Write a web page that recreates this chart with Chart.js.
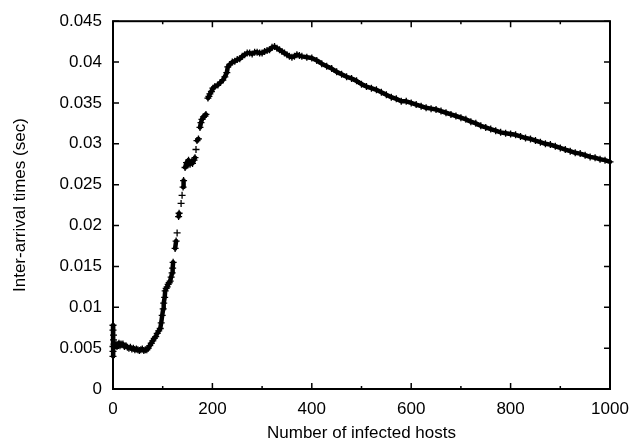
<!DOCTYPE html>
<html><head><meta charset="utf-8">
<script src="https://cdn.jsdelivr.net/npm/chart.js@4"></script>
<style>html,body{margin:0;padding:0;background:#fff;}canvas{display:block;}</style>
</head><body>
<canvas id="c" width="641" height="442"></canvas>
<script>
// Number of infected hosts (x) and inter-arrival time in seconds (y)
const hosts = [
  0,0,1,1,0,0,0,2,4,6,8,10,12,14,16,18,20,23,26,29,32,35,38,41,44,47,50,53,56,59,62,65,68,71,74,77,80,83,86,89,92,
  95,97,99,101,102,104,105,107,109,111,113,115,117,119,120,121,125,127,129,132,133,137,139,141,142,145,148,150,152,155,158,160,163,165,167,169,172,175,177,179,182,185,187,191,193,195,198,201,205,211,216,221,225,229,231,235,
  240,245,250,255,260,265,270,275,280,285,290,295,300,305,310,315,320,325,330,335,340,345,350,355,360,365,370,375,380,
  390,400,410,420,430,440,450,460,470,480,490,500,510,520,530,540,550,560,570,580,590,600,610,620,630,640,650,660,670,680,690,
  700,710,720,730,740,750,760,770,780,790,800,810,820,830,840,850,860,870,880,890,900,910,920,930,940,950,960,970,980,990,1000
];
const times = [
  .0078,.0072,.0066,.0060,.0052,.0046,.0040,.0055,.0053,.0055,.0052,.0054,.0056,.0053,.0055,.0054,.0055,.0052,.0053,.0051,.0050,.0051,.0049,.0050,.0048,.0049,.0048,.0047,.0048,.0049,.0047,.0048,.0048,.0050,.0053,.0056,.0059,.0062,.0064,.0068,.0071,
  .0074,.0081,.0090,.0098,.0105,.0112,.0120,.0123,.0125,.0128,.0130,.0132,.0137,.0142,.0148,.0155,.0172,.0181,.0191,.0211,.0215,.0227,.0237,.0247,.0255,.0271,.0277,.0274,.0280,.0275,.0278,.0276,.0280,.0283,.0293,.0304,.0306,.0320,.0326,.0330,.0333,.0334,.0336,.0356,.0358,.0361,.0364,.0368,.0370,.0372,.0375,.0378,.0382,.0387,.0394,.0397,
  .0400,.0401,.0403,.0404,.0407,.0409,.0411,.0411,.0410,.0412,.0412,.0411,.0411,.0413,.0414,.0415,.0418,.0419,.0417,.0415,.0413,.0411,.0409,.0407,.0406,.0407,.0409,.0408,.0407,
  .0406,.0405,.0402,.0398,.0395,.0392,.0388,.0385,.0382,.0380,.0377,.0373,.0370,.0368,.0366,.0363,.0360,.0357,.0355,.0352,.0352,.0350,.0348,.0346,.0344,.0343,.0342,.0340,.0338,.0336,.0334,
  .0332,.0330,.0327,.0325,.0322,.0320,.0318,.0316,.0314,.0313,.0312,.0311,.0309,.0307,.0306,.0304,.0302,.0300,.0299,.0297,.0295,.0293,.0291,.0289,.0288,.0286,.0284,.0283,.0281,.0280,.0278
];
const xLabelStep = 200;   // labelled x ticks: 0,200,...,1000
const xTickStep = 100;    // minor x ticks every 100
const yTickStep = 0.005;  // y ticks 0 ... 0.045
const xTitle = 'Number of infected hosts';
const yTitle = 'Inter-arrival times (sec)';

Chart.defaults.font.family = '"Liberation Sans", Arial, sans-serif';
Chart.defaults.font.size = 17;
Chart.defaults.color = '#000';

const framePlugin = {
  id: 'frame',
  afterDatasetsDraw(chart) {
    const {ctx, chartArea: a, scales: {x, y}} = chart;
    ctx.save();
    ctx.strokeStyle = '#000';
    ctx.lineWidth = 1.5;
    ctx.beginPath();
    x.ticks.forEach(t => {
      const px = x.getPixelForValue(t.value);
      const len = (Math.round(t.value) % xLabelStep === 0) ? 6 : 3;
      ctx.moveTo(px, a.bottom); ctx.lineTo(px, a.bottom - len);
      ctx.moveTo(px, a.top); ctx.lineTo(px, a.top + len);
    });
    y.ticks.forEach(t => {
      const py = y.getPixelForValue(t.value);
      ctx.moveTo(a.left, py); ctx.lineTo(a.left + 6, py);
      ctx.moveTo(a.right, py); ctx.lineTo(a.right - 6, py);
    });
    ctx.stroke();
    ctx.lineWidth = 2;
    ctx.strokeRect(a.left, a.top, a.right - a.left, a.bottom - a.top);
    ctx.restore();
  }
};

new Chart(document.getElementById('c'), {
  type: 'scatter',
  data: {
    datasets: [{
      data: hosts.map((h, i) => ({x: h, y: times[i]})),
      showLine: true,
      pointStyle: 'cross',
      pointRadius: 3.5,
      pointBorderWidth: 1.3,
      pointBorderColor: '#000',
      pointBackgroundColor: '#000',
      borderColor: '#000',
      borderWidth: 4.5,
      borderJoinStyle: 'round',
      borderCapStyle: 'round',
      clip: false,
      segment: {
        borderColor: c => Math.hypot(c.p1.x - c.p0.x, c.p1.y - c.p0.y) < 7.5 ? '#000' : 'rgba(0,0,0,0)'
      }
    }]
  },
  options: {
    responsive: false,
    animation: false,
    devicePixelRatio: 1,
    layout: {padding: {top: 17, right: 31, left: 0, bottom: 0}},
    plugins: {legend: {display: false}, tooltip: {enabled: false}},
    scales: {
      x: {
        type: 'linear', min: 0, max: 1000,
        grid: {display: false, drawTicks: false},
        border: {display: false},
        ticks: {
          stepSize: xTickStep, autoSkip: false, maxRotation: 0, padding: 10,
          callback: v => (Math.round(v) % xLabelStep === 0 ? String(v) : '')
        },
        title: {display: true, text: xTitle, font: {size: 17, lineHeight: 1}, padding: {top: 0, bottom: 0}},
        afterFit: s => { s.height = 53; }
      },
      y: {
        type: 'linear', min: 0, max: 0.045,
        grid: {display: false, drawTicks: false},
        border: {display: false},
        ticks: {
          stepSize: yTickStep, autoSkip: false, padding: 11,
          callback: v => String(Number(v.toFixed(3)))
        },
        title: {display: true, text: yTitle, font: {size: 17, lineHeight: 1}, padding: {top: 12, bottom: 0}},
        afterFit: s => { s.width = 113; }
      }
    }
  },
  plugins: [framePlugin]
});
</script>
</body></html>
